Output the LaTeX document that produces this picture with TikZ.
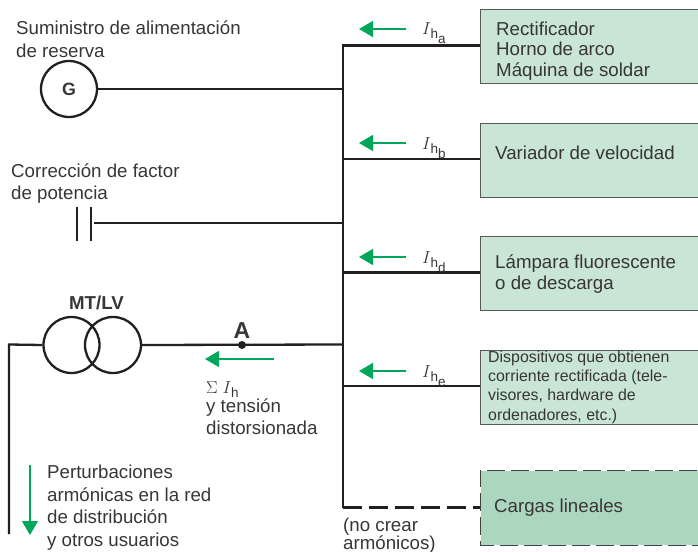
\documentclass[tikz,border=0pt]{standalone}
\usepackage{fontspec}
\setmainfont{Liberation Sans}
\usetikzlibrary{arrows.meta}
\definecolor{boxgreen}{RGB}{200,229,214}
\definecolor{boxdark}{RGB}{172,215,191}
\definecolor{arrowgreen}{RGB}{0,166,90}
\definecolor{wire}{RGB}{35,31,32}
\tikzset{
  wireline/.style={draw=wire, line width=2.3pt},
  flow/.style={draw=arrowgreen, line width=1.3pt, -{Triangle[length=14pt,width=16pt]}},
  load/.style={draw=wire!75, line width=1pt, fill=boxgreen, minimum width=240pt, minimum height=74pt, anchor=north west, inner sep=0pt},
  txt/.style={anchor=west, inner sep=0pt, font=\fontsize{18.7pt}{21pt}\selectfont, text=wire!90, align=left},
  cur/.style={anchor=base west, inner sep=0pt, font=\fontsize{17.8pt}{21pt}\selectfont, text=wire!90},
}
\newcommand{\Ih}[1]{$I$\hspace{-.5pt}\raisebox{-4pt}{\fontsize{13.5pt}{15pt}\selectfont h}\raisebox{-9pt}{\fontsize{13.5pt}{15pt}\selectfont #1}}
\begin{document}
\begin{tikzpicture}[x=1pt, y=-1pt]
\useasboundingbox (0,0) rectangle (698,551);

% cargas
\begin{scope}
\clip (0,0) rectangle (698,551);
\node [load] (ba) at (480,9) {};
\node [load] (bb) at (480,122.5) {};
\node [load] (bd) at (480,236) {};
\node [load] (be) at (480,349.5) {};
\node [load, draw=none, fill=boxdark] (bl) at (480,470) {};
\draw [wire!85, line width=.9pt, dash pattern=on 18pt off 6pt] (bl.north east) -- (bl.north west) -- (bl.south west) -- (bl.south east);
\end{scope}
\node [txt, font=\fontsize{18.7pt}{20.5pt}\selectfont] at (496,51) {Rectificador\\Horno de arco\\Máquina de soldar};
\node [txt] at (495,153) {Variador de velocidad};
\node [txt] at (495,274) {Lámpara fluorescente\\o de descarga};
\node [txt, font=\fontsize{15.9pt}{19.4pt}\selectfont] at (488,387) {Dispositivos que obtienen\\corriente rectificada (tele-\\visores, hardware de\\ordenadores, etc.)};
\node [txt] at (494,508) {Cargas lineales};

% barra
\coordinate (top) at (343,45.5);
\coordinate (tb) at (343,159);
\coordinate (td) at (343,272.5);
\coordinate (te) at (343,386);
\coordinate (tl) at (343,507.5);
\coordinate (tg) at (343,89);
\coordinate (tc) at (343,223);
\coordinate (tt) at (343,344.5);
\draw [wireline] (ba.west |- top) -- (top) -- (tl);
\draw [wireline] (tb) -- (bb.west |- tb);
\draw [wireline] (td) -- (bd.west |- td);
\draw [wireline] (te) -- (be.west |- te);
\draw [wireline, dash pattern=on 19pt off 7pt] (tl) -- (bl.west |- tl);

% generador
\node [circle, draw=wire, line width=2.3pt, minimum size=56pt, inner sep=0pt, font=\fontsize{17.8pt}{21pt}\selectfont\bfseries, text=wire!90] (gen) at (69,89) {\raisebox{-3.5pt}{G}};
\draw [wireline] (gen.east) -- (tc |- gen.east);
\node [txt, font=\fontsize{18.7pt}{23pt}\selectfont] at (16,39.5) {Suministro de alimentación\\de reserva};

% condensador
\coordinate (pa) at (77,206.5);
\coordinate (pb) at (77,241);
\coordinate (pc) at (91,206.5);
\coordinate (pd) at (91,241);
\coordinate (pe) at (94,223);
\draw [wireline] (pa) -- (pb);
\draw [wireline] (pc) -- (pd);
\draw [wireline] (pe) -- (tc);
\node [txt, font=\fontsize{18.7pt}{22pt}\selectfont] at (11,183.5) {Corrección de factor\\de potencia};

% transformador
\node [circle, draw=wire, line width=2.3pt, minimum size=56pt, inner sep=0pt] (tra) at (71.5,345) {};
\node [circle, draw=wire, line width=2.3pt, minimum size=56pt, inner sep=0pt] (trb) at (113,345) {};
\coordinate (lv) at (9,344.5);
\coordinate (lw) at (9,534);
\draw [wireline] (tra.west) -- (lv) -- (lw);
\draw [wireline] (trb.east) -- (tt);
\node [anchor=base, inner sep=0pt, font=\fontsize{18.7pt}{21pt}\selectfont\bfseries, text=wire!90] at (96.5,309) {MT/LV};
\node [circle, fill=wire, minimum size=8pt, inner sep=0pt] (ptA) at (242,345) {};
\node [anchor=base, inner sep=0pt, font=\fontsize{23pt}{23pt}\selectfont\bfseries, text=wire!90] at (242,338) {A};

% corrientes
\coordinate (aa) at (406,29);
\coordinate (ab) at (359,29);
\coordinate (ba1) at (406,143);
\coordinate (bb1) at (359,143);
\coordinate (ca) at (406,257);
\coordinate (cb) at (359,257);
\coordinate (da) at (406,371);
\coordinate (db) at (359,371);
\draw [flow] (aa) -- (ab);
\draw [flow] (ba1) -- (bb1);
\draw [flow] (ca) -- (cb);
\draw [flow] (da) -- (db);
\node [cur] at (422,35) {\Ih{a}};
\node [cur] at (422,149) {\Ih{b}};
\node [cur] at (422,263) {\Ih{d}};
\node [cur] at (422,377) {\Ih{e}};

\coordinate (sa) at (274,359);
\coordinate (sb) at (205,359);
\draw [flow] (sa) -- (sb);
\node [cur] at (206,393) {$\Sigma$ $I$\hspace{-.5pt}\raisebox{-4pt}{\fontsize{13.5pt}{15pt}\selectfont h}};
\node [txt, font=\fontsize{18.7pt}{22pt}\selectfont] at (206,417) {y tensión\\distorsionada};

\coordinate (pt) at (30,465);
\coordinate (pu) at (30,535);
\draw [flow] (pt) -- (pu);
\node [txt, font=\fontsize{18.7pt}{22.5pt}\selectfont] at (47,507.5) {Perturbaciones\\armónicas en la red\\de distribución\\y otros usuarios};
\node [txt, font=\fontsize{18.7pt}{18pt}\selectfont] at (343,535.5) {(no crear\\armónicos)};
\end{tikzpicture}
\end{document}
